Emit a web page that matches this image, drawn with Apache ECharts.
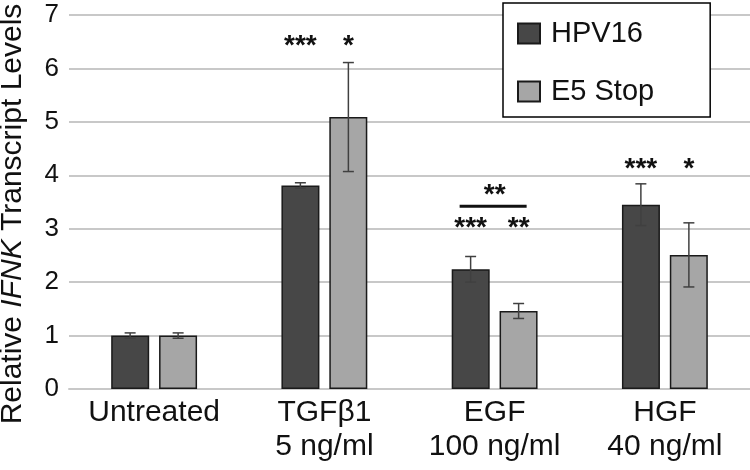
<!DOCTYPE html>
<html>
<head>
<meta charset="utf-8">
<script src="https://cdn.jsdelivr.net/npm/echarts@6/dist/echarts.min.js"></script>
<style>
  html, body { margin: 0; padding: 0; background: #fff; }
  #main { width: 750px; height: 470px; }
</style>
</head>
<body>
<div id="main"></div>
<script>
// treatment groups
var categories = ['Untreated', 'TGFβ1\n5 ng/ml', 'EGF\n100 ng/ml', 'HGF\n40 ng/ml'];
// mean relative IFNK levels and error (+/-)
var hpv16 = [1.0, 3.81, 2.24, 3.45];
var hpv16Err = [0.05, 0.05, 0.24, 0.39];
var e5Stop = [1.0, 5.09, 1.46, 2.51];
var e5StopErr = [0.05, 1.02, 0.14, 0.6];
var yTicks = [0, 1, 2, 3, 4, 5, 6, 7];
// significance marks: [category, bar (-1 hpv16, 1 e5, 0 centre), y, text]
var sigMarks = [
  [1, -1, 6.54, '***'],
  [1, 1, 6.54, '*'],
  [2, 0, 3.76, '**'],
  [2, -1, 3.14, '***'],
  [2, 1, 3.14, '**'],
  [3, -1, 4.25, '***'],
  [3, 1, 4.25, '*']
];
// bracket line over EGF pair: [category, y]
var brackets = [[2, 3.42]];

var BAR_W = 38;
var SHIFT = 24; // px from category centre to each bar centre

var errData = [];
hpv16.forEach(function (v, i) { errData.push([i, v, hpv16Err[i], -1]); });
e5Stop.forEach(function (v, i) { errData.push([i, v, e5StopErr[i], 1]); });

var chart = echarts.init(document.getElementById('main'));
var font = 'Liberation Sans, Arial, sans-serif';

var option = {
  animation: false,
  textStyle: { fontFamily: font },
  grid: { left: 69, right: 0, top: 15, bottom: 81 },
  graphic: [{
    type: 'text',
    x: 13,
    y: 214,
    rotation: Math.PI / 2,
    style: {
      text: '{n|Relative }{i|IFNK}{n| Transcript Levels}',
      align: 'center',
      verticalAlign: 'middle',
      rich: {
        n: { fontSize: 30, fill: '#111', fontFamily: font },
        i: { fontSize: 30, fill: '#111', fontStyle: 'italic', fontFamily: font }
      }
    }
  }],
  legend: {
    data: ['HPV16', 'E5 Stop'],
    orient: 'vertical',
    left: 503,
    top: 3,
    padding: [16, 56, 11, 14],
    itemGap: 29,
    itemWidth: 22,
    itemHeight: 20,
    icon: 'rect',
    backgroundColor: '#fff',
    borderColor: '#000',
    borderWidth: 1.5,
    textStyle: { fontSize: 29, color: '#111', fontFamily: font, padding: [0, 0, 0, 6] }
  },
  xAxis: {
    type: 'category',
    data: categories,
    axisTick: { show: false },
    axisLine: { lineStyle: { color: '#c8c8c8', width: 2 } },
    axisLabel: { fontSize: 30, color: '#111', margin: 7, lineHeight: 34, interval: 0 }
  },
  yAxis: {
    type: 'value',
    min: yTicks[0],
    max: yTicks[yTicks.length - 1],
    interval: 1,
    axisLine: { show: false },
    axisTick: { show: false },
    axisLabel: { fontSize: 26, color: '#111', margin: 10 },
    splitLine: { lineStyle: { color: '#c8c8c8', width: 2 } }
  },
  series: [
    {
      name: 'HPV16',
      type: 'bar',
      data: hpv16,
      barWidth: BAR_W,
      barGap: '26%',
      itemStyle: { color: '#474747', borderColor: '#1a1a1a', borderWidth: 1.5 }
    },
    {
      name: 'E5 Stop',
      type: 'bar',
      data: e5Stop,
      barWidth: BAR_W,
      barGap: '26%',
      itemStyle: { color: '#a6a6a6', borderColor: '#1a1a1a', borderWidth: 1.5 }
    },
    {
      type: 'custom',
      name: 'err',
      data: errData,
      z: 5,
      renderItem: function (params, api) {
        var c = api.value(0), v = api.value(1), e = api.value(2), side = api.value(3);
        var top = api.coord([c, v + e]);
        var bot = api.coord([c, v - e]);
        var x = top[0] + side * SHIFT;
        var cap = 5.5;
        var st = { stroke: '#404040', lineWidth: 1.5 };
        return {
          type: 'group',
          children: [
            { type: 'line', shape: { x1: x, y1: top[1], x2: x, y2: bot[1] }, style: st },
            { type: 'line', shape: { x1: x - cap, y1: top[1], x2: x + cap, y2: top[1] }, style: st },
            { type: 'line', shape: { x1: x - cap, y1: bot[1], x2: x + cap, y2: bot[1] }, style: st }
          ]
        };
      }
    },
    {
      type: 'custom',
      name: 'sig',
      data: sigMarks,
      z: 6,
      renderItem: function (params, api) {
        var p = api.coord([api.value(0), api.value(2)]);
        var x = p[0] + api.value(1) * SHIFT;
        return {
          type: 'text',
          style: {
            x: x,
            y: p[1] + 7,
            text: sigMarks[params.dataIndex][3],
            fill: '#111',
            font: 'bold 28px ' + font,
            textAlign: 'center',
            textVerticalAlign: 'middle'
          }
        };
      }
    },
    {
      type: 'custom',
      name: 'bracket',
      data: brackets,
      z: 6,
      renderItem: function (params, api) {
        var p = api.coord([api.value(0), api.value(1)]);
        return {
          type: 'line',
          shape: { x1: p[0] - 35, y1: p[1], x2: p[0] + 32, y2: p[1] },
          style: { stroke: '#111', lineWidth: 3 }
        };
      }
    }
  ]
};
chart.setOption(option);
</script>
</body>
</html>
